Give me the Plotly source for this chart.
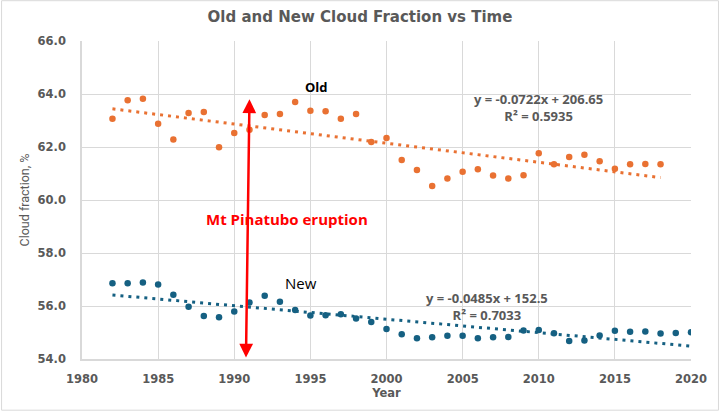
import numpy as np
import plotly.graph_objects as go

years_old = list(range(1982, 2019))
old_vals = [63.07, 63.76, 63.82, 62.88, 62.28, 63.28, 63.32, 61.99, 62.53, 62.65,
            63.21, 63.25, 63.70, 63.37, 63.35, 63.07, 63.25, 62.19, 62.34, 61.51,
            61.13, 60.53, 60.81, 61.07, 61.16, 60.92, 60.81, 60.93, 61.76, 61.35,
            61.62, 61.71, 61.46, 61.18, 61.35, 61.36, 61.35]

years_new = list(range(1982, 2021))
new_vals = [56.86, 56.86, 56.89, 56.81, 56.42, 55.97, 55.62, 55.58, 55.79, 56.13,
            56.39, 56.16, 55.85, 55.64, 55.65, 55.69, 55.53, 55.40, 55.13, 54.93,
            54.78, 54.82, 54.88, 54.88, 54.78, 54.82, 54.83, 55.08, 55.09, 54.97,
            54.68, 54.70, 54.89, 55.07, 55.03, 55.04, 54.96, 54.98, 55.01]

old_eq = ["y = -0.0722x + 206.65", "R² = 0.5935"]
new_eq = ["y = -0.0485x + 152.5", "R² = 0.7033"]

eruption_year = 1991

ORANGE = "#E97132"
BLUE = "#156082"
GRAY = "#595959"
GRID = "#D9D9D9"
TXT = "Open Sans"

fo = np.polyfit(years_old, old_vals, 1)
fn = np.polyfit(years_new, new_vals, 1)
to_x = [years_old[0], years_old[-1]]
tn_x = [years_new[0], years_new[-1]]

fig = go.Figure()
fig.add_trace(go.Scatter(x=to_x, y=np.polyval(fo, to_x), mode="lines",
                         line=dict(color=ORANGE, width=3, dash="3px,5px"), showlegend=False))
fig.add_trace(go.Scatter(x=tn_x, y=np.polyval(fn, tn_x), mode="lines",
                         line=dict(color=BLUE, width=3, dash="3px,5px"), showlegend=False))
fig.add_trace(go.Scatter(x=years_old, y=old_vals, mode="markers",
                         marker=dict(color=ORANGE, size=6.5), showlegend=False))
fig.add_trace(go.Scatter(x=years_new, y=new_vals, mode="markers",
                         marker=dict(color=BLUE, size=6.5), showlegend=False))

fig.update_xaxes(range=[1980, 2020], dtick=5, tick0=1980, showgrid=True, gridcolor=GRID,
                 gridwidth=1, showline=True, linecolor=GRID, linewidth=1.5, zeroline=False,
                 automargin=False,
                 tickfont=dict(family="DejaVu Sans", size=11.5, color=GRAY, weight="bold"),
                 ticklabelstandoff=8,
                 title=dict(text="<b>Year</b>", font=dict(family="DejaVu Sans", size=11.5, color=GRAY),
                            standoff=4))
fig.update_yaxes(range=[54, 66], dtick=2, tick0=54, tickformat=".1f", showgrid=True,
                 gridcolor=GRID, gridwidth=1, showline=True, linecolor=GRID, linewidth=1.5,
                 zeroline=False, automargin=False,
                 tickfont=dict(family="DejaVu Sans", size=11.5, color=GRAY, weight="bold"),
                 ticklabelstandoff=12,
                 title=dict(text="Cloud fraction, %", font=dict(family="Roboto", size=12.5, color=GRAY),
                            standoff=5))

fig.add_annotation(x=eruption_year, y=63.8, ax=eruption_year - 0.23, ay=54.0,
                   xref="x", yref="y", axref="x", ayref="y", text="",
                   showarrow=True, arrowhead=2, arrowside="end+start", arrowsize=1.1,
                   arrowwidth=2.5, arrowcolor="#FF0000")
fig.add_annotation(x=1993.45, y=59.3, xref="x", yref="y", text="<b>Mt Pinatubo eruption</b>",
                   showarrow=False, font=dict(family=TXT, size=15, color="#FF0000"))
fig.add_annotation(x=1995.4, y=64.28, xref="x", yref="y", text="<b>Old</b>",
                   showarrow=False, font=dict(family=TXT, size=13, color="#000000"))
fig.add_annotation(x=1994.4, y=56.85, xref="x", yref="y", text="New",
                   showarrow=False, font=dict(family=TXT, size=15, color="#000000"))
fig.add_annotation(x=2010.0, y=63.48, xref="x", yref="y",
                   text="<b>" + old_eq[0] + "<br>" + old_eq[1] + "</b>",
                   showarrow=False, font=dict(family=TXT, size=13, color=GRAY))
fig.add_annotation(x=2006.6, y=55.98, xref="x", yref="y",
                   text="<b>" + new_eq[0] + "<br>" + new_eq[1] + "</b>",
                   showarrow=False, font=dict(family=TXT, size=13, color=GRAY))

l, r, t, b = 81.5, 29, 41.3, 52.7
pw = 720 - l - r
ph = 412 - t - b
fig.add_shape(type="rect", xref="paper", yref="paper",
              x0=-(l - 1) / pw, x1=1 + (r - 1.5) / pw, y0=-(b - 1.5) / ph, y1=1 + (t - 1) / ph,
              line=dict(color="#D9D9D9", width=1), layer="below")

fig.update_layout(
    width=720, height=412,
    margin=dict(l=l, r=r, t=t, b=b),
    paper_bgcolor="white", plot_bgcolor="white",
    title=dict(text="Old and New Cloud Fraction vs Time", x=0.5, xanchor="center",
               y=1 - 17 / 412, yanchor="middle",
               font=dict(family="DejaVu Sans", size=15, color=GRAY, weight="bold")),
)

fig.write_html("out.html", config={"displayModeBar": False},
               post_script="document.body.style.margin='0px';")
